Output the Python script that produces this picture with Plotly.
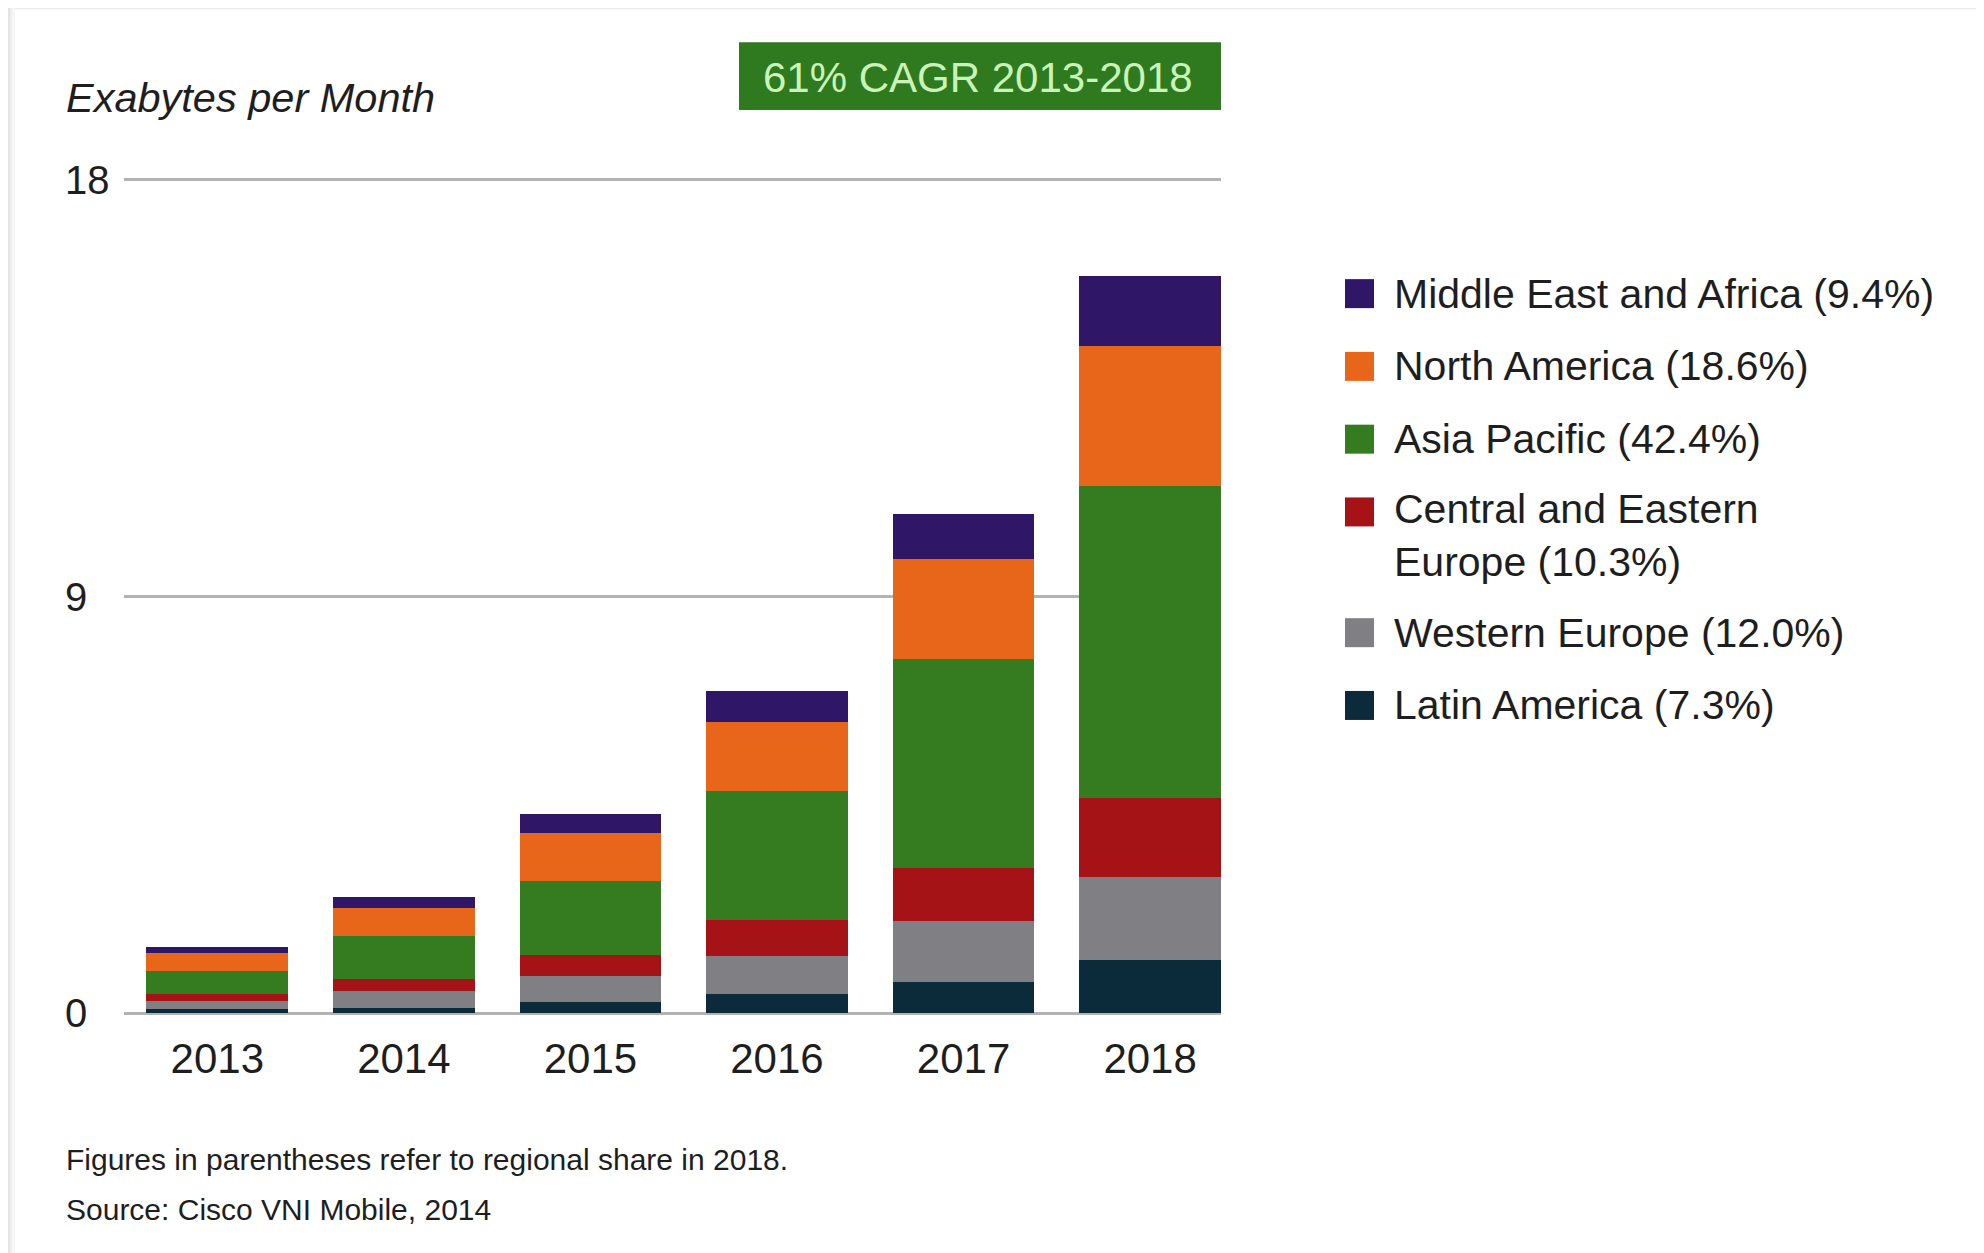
import plotly.graph_objects as go

years = ["2013", "2014", "2015", "2016", "2017", "2018"]
y_ticks = [0, 9, 18]

latin_america = [0.09, 0.11, 0.24, 0.41, 0.68, 1.14]
western_europe = [0.18, 0.36, 0.57, 0.82, 1.31, 1.80]
central_eastern_europe = [0.14, 0.27, 0.45, 0.79, 1.15, 1.70]
asia_pacific = [0.51, 0.93, 1.59, 2.79, 4.51, 6.75]
north_america = [0.39, 0.61, 1.04, 1.48, 2.16, 3.03]
middle_east_africa = [0.12, 0.24, 0.41, 0.66, 0.98, 1.50]

# bottom -> top stacking order
series = [
    ("Latin America (7.3%)", latin_america, "#0b2a3a"),
    ("Western Europe (12.0%)", western_europe, "#808084"),
    ("Central and Eastern<br>Europe (10.3%)", central_eastern_europe, "#a51316"),
    ("Asia Pacific (42.4%)", asia_pacific, "#357b1f"),
    ("North America (18.6%)", north_america, "#e8661a"),
    ("Middle East and Africa (9.4%)", middle_east_africa, "#2f1666"),
]

FONT = "Liberation Sans"
TXT = "#1e1e1e"
W, H = 1984, 1253
OFF = 8  # page body margin offset
Y_MAX = 18
EXT = 0.06  # small range extension so edge gridlines are drawn

X_LEFT, X_RIGHT = 124 - OFF, 1221 - OFF
Y0_PX, Y18_PX = 1013.5 - OFF, 179.7 - OFF
unit = (Y0_PX - Y18_PX) / Y_MAX
PX_L, PX_R = X_LEFT, X_RIGHT
PX_T = Y18_PX - EXT * unit
PX_B = Y0_PX + EXT * unit


def px_x(x):
    return (x - OFF - PX_L) / (PX_R - PX_L)


def px_y(y):
    return (PX_B - (y - OFF)) / (PX_B - PX_T)


fig = go.Figure()
for name, vals, col in series:
    fig.add_trace(go.Bar(x=years, y=vals, name=name, marker=dict(color=col, line=dict(width=0)),
                         showlegend=False))

bar_frac = 0.76
shapes = []
annotations = []

# frame shadow
shapes.append(dict(type="rect", xref="paper", yref="paper", x0=px_x(0), x1=px_x(W + 20), y0=px_y(0), y1=px_y(9),
                   fillcolor="#ebebeb", line=dict(width=0), layer="below"))
for i, c in enumerate(["#bdbdbd", "#cbcbcb", "#d8d8d8", "#e4e4e4", "#eeeeee", "#f7f7f7"]):
    shapes.append(dict(type="rect", xref="paper", yref="paper", x0=px_x(i * 2.5), x1=px_x(i * 2.5 + 2.5),
                       y0=px_y(H + 20), y1=px_y(0), fillcolor=c, line=dict(width=0), layer="below"))

# CAGR box
shapes.append(dict(type="rect", xref="paper", yref="paper", x0=px_x(739), x1=px_x(1221), y0=px_y(110), y1=px_y(42),
                   fillcolor="#2f7a1e", line=dict(width=0)))
annotations.append(dict(text="61% CAGR 2013-2018", xref="paper", yref="paper", x=px_x(978), y=px_y(77),
                        xanchor="center", yanchor="middle", showarrow=False,
                        font=dict(family=FONT, size=42, color="#c9f3b9")))

# axis title
annotations.append(dict(text="<i>Exabytes per Month</i>", xref="paper", yref="paper", x=px_x(64), y=px_y(97),
                        xanchor="left", yanchor="middle", showarrow=False,
                        font=dict(family=FONT, size=41.5, color=TXT)))

# y tick labels (left aligned)
for v in y_ticks:
    annotations.append(dict(text=str(v), xref="paper", yref="y", x=px_x(63), y=v, xanchor="left",
                            yanchor="middle", showarrow=False, font=dict(family=FONT, size=40, color=TXT)))

# legend (top -> bottom)
row_y = 293.6
pitch = 72.8
line_h = 48
for name, vals, col in reversed(series):
    n_lines = name.count("<br>") + 1
    shapes.append(dict(type="rect", xref="paper", yref="paper", x0=px_x(1345), x1=px_x(1374),
                       y0=px_y(row_y + 14.5), y1=px_y(row_y - 14.5), fillcolor=col, line=dict(width=0)))
    annotations.append(dict(text=name, xref="paper", yref="paper", x=px_x(1392),
                            y=px_y(row_y + (n_lines - 1) * line_h / 2), xanchor="left", yanchor="middle",
                            align="left", showarrow=False, font=dict(family=FONT, size=41, color=TXT)))
    row_y += pitch + (n_lines - 1) * line_h

# footnotes
annotations.append(dict(text="Figures in parentheses refer to regional share in 2018.", xref="paper", yref="paper",
                        x=px_x(64), y=px_y(1160), xanchor="left", yanchor="middle", showarrow=False,
                        font=dict(family=FONT, size=30, color=TXT)))
annotations.append(dict(text="Source: Cisco VNI Mobile, 2014", xref="paper", yref="paper",
                        x=px_x(64), y=px_y(1210), xanchor="left", yanchor="middle", showarrow=False,
                        font=dict(family=FONT, size=30, color=TXT)))

fig.update_layout(
    width=W, height=H,
    barmode="stack", bargap=1 - bar_frac,
    paper_bgcolor="white", plot_bgcolor="rgba(0,0,0,0)",
    margin=dict(l=PX_L, r=W - PX_R, t=PX_T, b=H - PX_B, pad=0),
    showlegend=False,
    xaxis=dict(range=[-0.5, len(years) - 1 + bar_frac / 2], showgrid=False, zeroline=False, showline=False,
               ticks="", tickfont=dict(family=FONT, size=42, color=TXT), ticklabelstandoff=14,
               automargin=False, fixedrange=True),
    yaxis=dict(range=[-EXT, Y_MAX + EXT], tickvals=y_ticks, showticklabels=False, showgrid=True,
               gridcolor="#b3b3b3", gridwidth=3, zeroline=False, showline=False, ticks="",
               automargin=False, fixedrange=True),
    shapes=shapes,
    annotations=annotations,
)

fig.write_html("out.html")
